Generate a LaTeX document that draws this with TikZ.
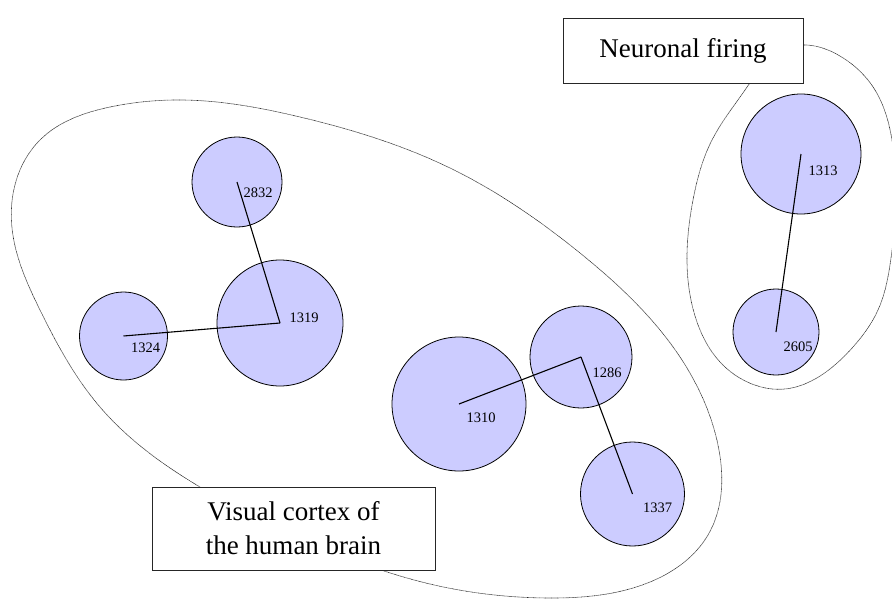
\documentclass[tikz,border=0pt]{standalone}
\usepackage{fontspec}
\setmainfont{Liberation Serif}
\usetikzlibrary{hobby}
\definecolor{neuronfill}{RGB}{204,204,255}
\begin{document}
\begin{tikzpicture}[x=1pt,y=-1pt,
  neuron/.style={circle, draw=black, line width=0.8pt, fill=neuronfill, inner sep=0pt},
  link/.style={line width=1.1pt, draw=black},
  group/.style={line width=0.6pt, draw=black!85, dash pattern=on 0.7pt off 0.5pt},
  num/.style={font=\fontsize{14.5}{16}\selectfont, inner sep=0pt},
  caption/.style={draw=black!85, line width=0.8pt, fill=white, align=center,
    inner sep=0pt, font=\fontsize{27}{34}\selectfont}
]
\useasboundingbox (0,0) rectangle (892,603);
\clip (0,0) rectangle (892,603);

% outline of the visual cortex group
\draw[group, use Hobby shortcut, closed=true]
  (12,228) .. (40,140) .. (110,107) .. (183,100) .. (300,117) .. (450,168)
  .. (580,253) .. (680,357) .. (718,445) .. (708,535) .. (650,582)
  .. (550,598) .. (430,584) .. (300,538) .. (200,487) .. (100,407)
  .. (40,310);

% outline of the neuronal firing group
\draw[group, use Hobby shortcut, closed=true]
  (790,47) .. (840,56) .. (875,90) .. (892,140) .. (896,200) .. (891,258)
  .. (878,310) .. (853,347) .. (820,376) .. (785,389) .. (752,384)
  .. (720,362) .. (697,322) .. (687,262) .. (693,200) .. (712,140)
  .. (745,90);

% neurons
\node[neuron, minimum size=90pt]  (n2832) at (237,182) {};
\node[neuron, minimum size=126pt] (n1319) at (280,323) {};
\node[neuron, minimum size=88pt]  (n1324) at (123.5,336) {};
\node[neuron, minimum size=134pt] (n1310) at (459,404) {};
\node[neuron, minimum size=102pt] (n1286) at (581,357) {};
\node[neuron, minimum size=104pt] (n1337) at (632.5,494) {};
\node[neuron, minimum size=120pt] (n1313) at (801,154) {};
\node[neuron, minimum size=86pt]  (n2605) at (776,332) {};

% connections between neuron centres
\draw[link] (n2832.center) -- (n1319.center);
\draw[link] (n1324.center) -- (n1319.center);
\draw[link] (n1310.center) -- (n1286.center);
\draw[link] (n1286.center) -- (n1337.center);
\draw[link] (n1313.center) -- (n2605.center);

% neuron numbers
\node[num] (t2832) at ([shift={(21,11)}]n2832.center) {2832};
\node[num] (t1319) at ([shift={(24,-5)}]n1319.center) {1319};
\node[num] (t1324) at ([shift={(22,12)}]n1324.center) {1324};
\node[num] (t1310) at ([shift={(22,14)}]n1310.center) {1310};
\node[num] (t1286) at ([shift={(26,16)}]n1286.center) {1286};
\node[num] (t1337) at ([shift={(25,14)}]n1337.center) {1337};
\node[num] (t1313) at ([shift={(22,17)}]n1313.center) {1313};
\node[num] (t2605) at ([shift={(22,15)}]n2605.center) {2605};

% group captions
\node[caption, minimum width=283pt, minimum height=83pt] (cortex) at (293.5,528.5)
  {Visual cortex of\\the human brain};
\node[caption, minimum width=240pt, minimum height=65pt] (firing) at (683,50.5)
  {Neuronal firing};
\end{tikzpicture}
\end{document}
